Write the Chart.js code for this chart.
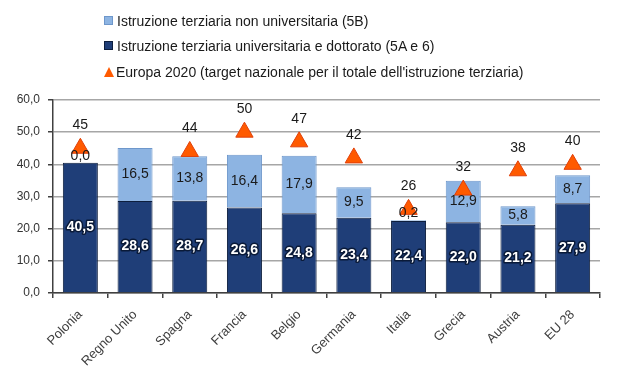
<!DOCTYPE html>
<html>
<head>
<meta charset="utf-8">
<script src="https://cdn.jsdelivr.net/npm/chart.js@4"></script>
<style>
  body { margin: 0; background: #fff; }
  #wrap { position: relative; width: 624px; height: 367px; }
  #legend { position: absolute; left: 104px; top: 0; font: 14px "Liberation Sans", sans-serif; color: #1a1a1a; }
  #legend div { position: absolute; left: 0; white-space: nowrap; line-height: 18px; }
  #legend span.sq { display: inline-block; width: 7px; height: 7px; margin-right: 4px; vertical-align: 1px; }
  #legend span.tri { display: inline-block; width: 0; height: 0; border-left: 5px solid transparent; border-right: 5px solid transparent; border-bottom: 10px solid #ff5a00; margin-right: 2px; vertical-align: 0px; }
</style>
</head>
<body>
<div id="wrap">
  <canvas id="myChart" width="624" height="367"></canvas>
  <div id="legend">
    <div style="top:12px"><span class="sq" style="background:#8db4e2;border:1px solid #6e97cb"></span>Istruzione terziaria non universitaria (5B)</div>
    <div style="top:37px"><span class="sq" style="background:#1f3e78;border:1px solid #0d1e3d"></span>Istruzione terziaria universitaria e dottorato (5A e 6)</div>
    <div style="top:63px"><span class="tri"></span>Europa 2020 (target nazionale per il totale dell'istruzione terziaria)</div>
  </div>
</div>
<script>
var paesi = ['Polonia', 'Regno Unito', 'Spagna', 'Francia', 'Belgio', 'Germania', 'Italia', 'Grecia', 'Austria', 'EU 28'];
var universitaria = [40.5, 28.6, 28.7, 26.6, 24.8, 23.4, 22.4, 22.0, 21.2, 27.9];
var nonUniversitaria = [0.0, 16.5, 13.8, 16.4, 17.9, 9.5, 0.2, 12.9, 5.8, 8.7];
var target2020 = [45, null, 44, 50, 47, 42, 26, 32, 38, 40];

function virgola(v, dec) {
    return v.toFixed(dec).replace('.', ',');
}

// etichette dei valori disegnate a mano (niente plugin datalabels)
var etichette = {
    id: 'etichette',
    afterDatasetsDraw: function(chart) {
        var ctx = chart.ctx;
        ctx.save();
        ctx.textAlign = 'center';
        ctx.textBaseline = 'middle';
        chart.data.datasets.forEach(function(ds, i) {
            var meta = chart.getDatasetMeta(i);
            meta.data.forEach(function(el, j) {
                var v = ds.data[j];
                if (v === null || v === undefined) return;
                if (i === 0) {
                    var y = (el.y + el.base) / 2;
                    ctx.font = 'bold 14px "Liberation Sans", sans-serif';
                    ctx.lineJoin = 'round';
                    ctx.lineWidth = 3;
                    ctx.strokeStyle = '#0a1a38';
                    ctx.strokeText(virgola(v, 1), el.x, y);
                    ctx.fillStyle = '#ffffff';
                    ctx.fillText(virgola(v, 1), el.x, y);
                } else if (i === 1) {
                    var h = el.base - el.y;
                    var y2 = h < 14 ? el.y - 7 : (el.y + el.base) / 2;
                    ctx.font = '14px "Liberation Sans", sans-serif';
                    ctx.fillStyle = '#1a1a1a';
                    ctx.fillText(virgola(v, 1), el.x, y2);
                } else {
                    ctx.font = '14px "Liberation Sans", sans-serif';
                    ctx.fillStyle = '#1a1a1a';
                    ctx.fillText(String(v), el.x, el.y - 23);
                }
            });
        });
        ctx.restore();
    }
};

var ctx = document.getElementById('myChart').getContext('2d');
var myChart = new Chart(ctx, {
    type: 'bar',
    data: {
        labels: paesi,
        datasets: [{
            label: 'Istruzione terziaria universitaria e dottorato (5A e 6)',
            data: universitaria,
            backgroundColor: '#1f3e78',
            borderColor: '#0d1e3d',
            borderWidth: 1,
            stack: 'a',
            order: 1
        }, {
            label: 'Istruzione terziaria non universitaria (5B)',
            data: nonUniversitaria,
            backgroundColor: '#8db4e2',
            borderColor: '#6e97cb',
            borderWidth: 1,
            stack: 'a',
            order: 1
        }, {
            type: 'line',
            label: "Europa 2020 (target nazionale per il totale dell'istruzione terziaria)",
            data: target2020,
            showLine: false,
            pointStyle: 'triangle',
            pointRadius: 10,
            pointBackgroundColor: '#ff5a00',
            pointBorderColor: '#e0400a',
            pointBorderWidth: 1,
            stack: 't',
            order: 0
        }]
    },
    options: {
        responsive: false,
        animation: false,
        categoryPercentage: 1,
        barPercentage: 0.64,
        layout: { padding: { top: 100, right: 24, left: 0, bottom: 0 } },
        plugins: {
            legend: { display: false },
            tooltip: { enabled: false }
        },
        scales: {
            x: {
                stacked: true,
                grid: { drawOnChartArea: false, drawTicks: true, tickLength: 5, color: '#404040', lineWidth: 1.5 },
                border: { color: '#404040', width: 1.5 },
                ticks: {
                    minRotation: 45,
                    maxRotation: 45,
                    padding: 9,
                    color: '#404040',
                    font: { size: 13, family: '"Liberation Sans", sans-serif' }
                },
                afterFit: function(scale) { scale.height = 74; }
            },
            y: {
                stacked: true,
                min: 0,
                max: 60,
                grid: { color: '#a6a6a6', lineWidth: 1.5, tickLength: 5, tickColor: '#404040' },
                border: { color: '#404040', width: 1.5 },
                ticks: {
                    stepSize: 10,
                    padding: 8,
                    color: '#333333',
                    font: { size: 12, family: '"Liberation Sans", sans-serif' },
                    callback: function(v) { return virgola(v, 1); }
                },
                afterFit: function(scale) { scale.width = 53; }
            }
        }
    },
    plugins: [etichette]
});
</script>
</body>
</html>
